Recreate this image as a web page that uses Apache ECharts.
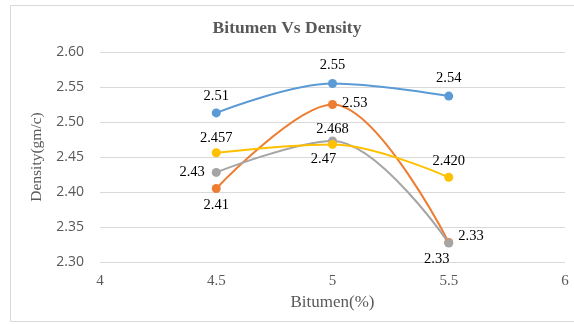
<!DOCTYPE html>
<html><head><meta charset="utf-8">
<script src="https://cdn.jsdelivr.net/npm/echarts@6/dist/echarts.min.js"></script>
<style>html,body{margin:0;padding:0;background:#fff}#c{width:574px;height:324px}</style>
</head><body><div id="c"></div>
<script>
const bitumen = [4.5, 5, 5.5];
const seriesNames = ['S1', 'S2', 'S3', 'S4'];
const blueVals = [2.513, 2.555, 2.537];
const orangeVals = [2.405, 2.525, 2.328];
const grayVals = [2.428, 2.473, 2.327];
const yellowVals = [2.456, 2.468, 2.421];
const blueLabels = ['2.51', '2.55', '2.54'];
const orangeLabels = ['2.41', '2.53', '2.33'];
const grayLabels = ['2.43', '2.47', '2.33'];
const yellowLabels = ['2.457', '2.468', '2.420'];
const yTicks = [2.30, 2.35, 2.40, 2.45, 2.50, 2.55, 2.60];
const xTicks = [4, 4.5, 5, 5.5, 6];

const labelFont = {fontFamily: 'Liberation Serif', fontSize: 14.5, color: '#000'};

function mk(name, vals, labels, color, positions, offsets) {
  return {
    name: name, type: 'line', smooth: 0.35, symbol: 'circle', symbolSize: 9,
    lineStyle: {color: color, width: 2}, itemStyle: {color: color},
    z: 3,
    data: vals.map((v, i) => ({
      value: [bitumen[i], v],
      label: Object.assign({show: true, position: positions[i], offset: offsets[i] || [0, 0],
        formatter: labels[i]}, labelFont)
    }))
  };
}

const chart = echarts.init(document.getElementById('c'));
chart.setOption({
  animation: false,
  backgroundColor: '#fff',
  title: {text: 'Bitumen Vs Density', left: 'center', top: 14,
    textStyle: {fontFamily: 'Liberation Serif', fontWeight: 'bold', fontSize: 17.5, color: '#595959'}},
  grid: {left: 100, right: 9, top: 52, bottom: 62},
  xAxis: {type: 'value', min: 4, max: 6, interval: 0.5,
    name: 'Bitumen(%)', nameLocation: 'middle', nameGap: 27,
    nameTextStyle: {fontFamily: 'Liberation Serif', fontSize: 17, color: '#595959'},
    axisLine: {show: false}, axisTick: {show: false}, splitLine: {show: false},
    axisLabel: {fontFamily: 'Liberation Serif', fontSize: 15, color: '#595959', margin: 12,
      formatter: v => xTicks.includes(v) ? String(v) : ''}},
  yAxis: {type: 'value', min: 2.30, max: 2.60, interval: 0.05,
    name: 'Density(gm/c)', nameLocation: 'middle', nameGap: 54,
    nameTextStyle: {fontFamily: 'Liberation Serif', fontSize: 15.5, color: '#595959'},
    axisLine: {show: false}, axisTick: {show: false},
    splitLine: {lineStyle: {color: '#d9d9d9', width: 1}},
    axisLabel: {fontFamily: 'Open Sans', fontSize: 14, color: '#595959', margin: 16,
      formatter: v => v.toFixed(2)}},
  graphic: [{type: 'rect', shape: {x: 10.5, y: 5.5, width: 580, height: 316}, silent: true,
    style: {fill: 'none', stroke: '#d9d9d9', lineWidth: 1}, z: -1}],
  series: [
    mk(seriesNames[0], blueVals, blueLabels, '#5b9bd5', ['top', 'top', 'top'], [[0, 0], [0, -1], [0, -1]]),
    mk(seriesNames[1], orangeVals, orangeLabels, '#ed7d31', ['bottom', 'right', 'right'], [[0, 0], [0, -1], [0, -6]]),
    mk(seriesNames[2], grayVals, grayLabels, '#a5a5a5', ['left', 'bottom', 'bottom'], [[-2, 0], [-9, 1], [-12, -1]]),
    mk(seriesNames[3], yellowVals, yellowLabels, '#ffc000', ['top', 'top', 'top'], [[0, 2], [0, 2], [0, 1]])
  ]
});
</script></body></html>
